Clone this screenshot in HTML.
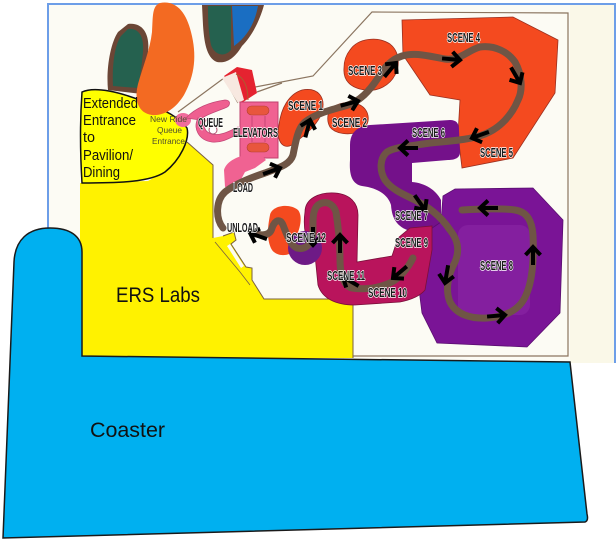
<!DOCTYPE html>
<html><head><meta charset="utf-8"><style>
html,body{margin:0;padding:0;background:#fff;}
svg{display:block}
.lb{font-family:"Liberation Sans",sans-serif;font-weight:bold;font-size:13px;fill:#1a1a1a;stroke:#fff;stroke-width:1.6px;paint-order:stroke;stroke-linejoin:round}
.cal{font-family:"Liberation Sans",sans-serif;fill:#111}
</style></head><body>
<svg width="616" height="540" viewBox="0 0 616 540" xmlns="http://www.w3.org/2000/svg">
<defs>
<g id="ar"><path d="M-18,0 L-1,0 M-8,-7.5 L0,0 L-8,7.5" fill="none" stroke="#000" stroke-width="4"/></g>
</defs>
<rect width="616" height="540" fill="#fff"/>
<!-- photo -->
<rect x="48" y="4" width="568" height="359" fill="#fcfbf4"/>
<rect x="570" y="4" width="46" height="359" fill="#faf8e8"/>
<path d="M48,240 L48,4 L615,4 L615,363" fill="none" stroke="#6d9ee8" stroke-width="2"/>

<!-- trees -->
<path d="M128,24 C144,22 150,36 148,52 C147,66 144,80 142,94 L108,90 C106,70 110,44 118,32 Z" fill="#6b4636"/>
<path d="M128,29 C140,28 144,38 143,52 C142,64 140,78 138,88 L113,86 C112,68 114,46 121,36 Z" fill="#25614f"/>
<path d="M202,5 L264,5 C260,20 252,36 242,46 C236,56 228,64 217,62 C206,58 204,40 203,25 Z" fill="#6b4636"/>
<path d="M208,6 L231,6 L231,50 C225,57 215,56 211,45 C208,30 208,15 208,6 Z" fill="#25614f"/>
<path d="M232,6 L258,6 C255,22 248,36 234,46 Z" fill="#1a6ec2"/>

<!-- building outline -->
<path d="M178,112 L224,78 L238,103 M257,92 L282,83 M250,88 L313,76 L372,12 L568,13 L568,356 L353,356" fill="none" stroke="#8b7560" stroke-width="1.2"/>
<!-- red piece -->
<path d="M224,76 L237,67 L252,70 L257,93 L240,104 C236,95 232,85 224,76 Z" fill="#e52330"/>
<path d="M222,78 L236,72 L244,100 L238,103 Z" fill="#f7e8e0"/>
<path d="M236,74 C244,78 248,86 248,100" fill="none" stroke="#b05a30" stroke-width="1"/>

<!-- yellow ERS labs -->
<path d="M80,183 L148,181 C165,172 180,158 187,142 L213,165 L213,238 L223,236 L234,232 L236,240 L231,244 L246,267 L252,268 L252,280 L264,299 L353,299 L353,358 L80,358 Z" fill="#fff200"/>
<path d="M187,142 L213,165 L213,238 M223,236 L234,232 L236,240 L231,244 L246,267 L252,268 L252,280 L264,299 L353,299 L353,358" fill="none" stroke="#7a6040" stroke-width="1"/>
<path d="M215,242 L240,272 L250,285" fill="none" stroke="#7a6040" stroke-width="0.8"/>
<path d="M227,246 L230,244 L244,266 L241,268 Z" fill="#fcfbf4"/>

<!-- extended entrance bubble -->
<path d="M82,92 C95,86 120,92 145,102 C165,110 180,118 187,128 C190,140 180,160 165,172 C150,182 120,183 82,183 C80,150 80,120 82,92 Z" fill="#ffff00" stroke="#111" stroke-width="1.5"/>

<!-- pink queue -->
<ellipse cx="183" cy="120" rx="8" ry="7" fill="#f06b9b"/>
<path d="M186,118 C195,108 210,102 225,100 C231,100 231,106 225,108 C215,112 205,115 200,120 Z" fill="#ef5f90" stroke="#c34877" stroke-width="0.8"/>
<path d="M198,118 C193,128 198,140 212,142 C222,143 230,138 238,134 L238,127 C228,132 220,136 212,134 C204,132 203,126 206,120 Z" fill="#ef5f90" stroke="#c34877" stroke-width="0.8"/>
<circle cx="213" cy="130" r="4" fill="#fff" stroke="#b05070" stroke-width="1"/>
<!-- elevators -->
<rect x="240" y="102" width="38" height="56" fill="#f06292" stroke="#c0406e" stroke-width="1"/>
<rect x="247" y="106" width="22" height="9" rx="4.5" fill="#e8563d" stroke="#b04030" stroke-width="0.6"/>
<rect x="247" y="143" width="22" height="9" rx="4.5" fill="#e8563d" stroke="#b04030" stroke-width="0.6"/>
<path d="M252,116 L252,142 M265,116 L265,142" stroke="#c0406e" stroke-width="0.8"/>
<path d="M242,156 L262,156 L266,160 L255,168 L245,172 L238,185 L225,187 L224,170 C226,163 234,158 242,156 Z" fill="#f06292"/>

<!-- orange blob -->
<path d="M160,3 C176,0 186,12 191,32 C197,55 195,75 184,95 C176,108 165,116 152,115 C138,113 134,100 138,84 C143,66 150,50 152,32 C153,16 152,6 160,3 Z" fill="#f36a22"/>

<!-- orange scenes -->
<g fill="#f44a1f" stroke="#9a3020" stroke-width="0.8">
<path d="M302,90 C318,87 326,97 322,112 C318,125 305,135 292,145 C282,150 276,140 279,125 C281,108 289,94 302,90 Z"/>
<path d="M330,110 C335,103 350,100 360,105 C370,110 372,125 360,131 C350,136 335,134 330,127 C327,122 327,115 330,110 Z"/>
<path d="M350,50 C358,38 378,36 390,44 C400,52 400,66 395,75 C390,85 378,92 365,90 C350,88 343,80 344,68 C344,60 346,55 350,50 Z"/>
<path d="M402,20 L513,17 L558,40 L555,93 L513,158 L462,168 L458,135 L460,100 L430,95 L403,55 Z"/>
</g>

<!-- purple scenes 6/7 -->
<path d="M350,145 C350,132 358,126 370,125 L450,120 C457,120 459,124 459,130 L460,152 C460,158 455,160 448,160 L412,163 L412,182 C425,183 436,190 441,200 L441,230 L413,232 C398,228 392,220 391,205 C388,195 378,188 362,186 C352,184 349,175 350,160 Z" fill="#74118a"/>
<!-- scene 8 octagon -->
<path d="M443,196 L455,189 L533,188 L563,220 L560,313 L527,347 L437,343 L422,313 L416,265 L422,235 L441,222 Z" fill="#7a1496" stroke="#5a0e70" stroke-width="0.8"/>
<rect x="458" y="225" width="72" height="90" rx="10" fill="#8e2aa8" opacity="0.5"/>
<!-- magenta scenes 9-11 -->
<path d="M305,212 C305,198 320,192 335,193 C350,194 358,203 358,215 L357,262 L392,256 L398,238 L410,228 L432,226 L432,250 L425,290 C420,296 410,300 400,302 L355,305 C335,305 322,298 318,285 L315,255 C305,245 303,225 305,212 Z" fill="#b9145c" stroke="#7a0f3a" stroke-width="0.8"/>
<!-- scene 12 -->
<path d="M270,215 C272,205 290,203 298,210 C303,216 300,228 297,235 L297,248 C292,256 278,258 272,250 C266,240 268,225 270,215 Z" fill="#f44a1f"/>
<circle cx="305" cy="248" r="17" fill="#6e1a86"/>

<!-- track -->
<g fill="none" stroke="#6f5545" stroke-width="7" stroke-linecap="round" stroke-linejoin="round">
<path d="M223,228 C215,218 216,200 225,192 C235,184 250,178 265,173 C278,168 290,165 293,155 C296,140 298,128 305,122 C315,114 330,110 345,106 C360,102 370,90 378,78 C384,68 390,60 402,56 C415,52 428,56 445,59 C460,61 468,50 480,47 C495,45 508,52 515,62 C522,74 523,90 518,100 C512,115 500,128 485,134 C470,140 450,141 430,143 C410,146 395,147 387,152 C380,158 379,170 385,180 C392,190 405,195 415,200 C428,207 440,215 450,230 C458,240 460,250 455,262 C448,275 445,290 450,302 C456,314 470,319 487,318 C505,317 520,310 526,295 C533,280 534,255 533,235 C532,222 528,212 515,210 C500,208 480,209 462,210"/>
<path d="M413,258 C408,268 400,278 390,283 C378,288 365,290 352,288 C344,286 340,275 340,260 C340,245 338,225 336,212 C333,203 325,200 318,205 C312,210 313,222 313,232 C312,245 305,250 297,248 C290,245 287,235 283,225 C280,218 275,220 272,228 C270,236 262,236 252,233"/>
</g>

<!-- arrows -->
<use href="#ar" transform="translate(280,168) rotate(-20)"/>
<use href="#ar" transform="translate(310,120) rotate(-75)"/>
<use href="#ar" transform="translate(358,101) rotate(-15)"/>
<use href="#ar" transform="translate(396,63) rotate(-50)"/>
<use href="#ar" transform="translate(460,60) rotate(5)"/>
<use href="#ar" transform="translate(520,83) rotate(60)"/>
<use href="#ar" transform="translate(472,138) rotate(160)"/>
<use href="#ar" transform="translate(400,148) rotate(180)"/>
<use href="#ar" transform="translate(425,210) rotate(55)"/>
<use href="#ar" transform="translate(445,283) rotate(100)"/>
<use href="#ar" transform="translate(505,315) rotate(-5)"/>
<use href="#ar" transform="translate(533,247) rotate(-90)"/>
<use href="#ar" transform="translate(480,208) rotate(180)"/>
<use href="#ar" transform="translate(393,278) rotate(140)"/>
<use href="#ar" transform="translate(343,277) rotate(-150)"/>
<use href="#ar" transform="translate(340,235) rotate(-90)"/>
<use href="#ar" transform="translate(313,245) rotate(90)"/>
<use href="#ar" transform="translate(250,233) rotate(200)"/>

<!-- labels -->
<g class="lb">
<text x="198" y="127" textLength="25" lengthAdjust="spacingAndGlyphs">QUEUE</text>
<text x="233" y="137" textLength="45" lengthAdjust="spacingAndGlyphs">ELEVATORS</text>
<text x="233" y="192" textLength="20" lengthAdjust="spacingAndGlyphs">LOAD</text>
<text x="227" y="232" textLength="31" lengthAdjust="spacingAndGlyphs">UNLOAD</text>
<text x="288" y="110" textLength="35" lengthAdjust="spacingAndGlyphs">SCENE 1</text>
<text x="332" y="127" textLength="35" lengthAdjust="spacingAndGlyphs">SCENE 2</text>
<text x="348" y="75" textLength="34" lengthAdjust="spacingAndGlyphs">SCENE 3</text>
<text x="447" y="42" textLength="33" lengthAdjust="spacingAndGlyphs">SCENE 4</text>
<text x="480" y="157" textLength="33" lengthAdjust="spacingAndGlyphs">SCENE 5</text>
<text x="412" y="137" textLength="33" lengthAdjust="spacingAndGlyphs">SCENE 6</text>
<text x="395" y="220" textLength="33" lengthAdjust="spacingAndGlyphs">SCENE 7</text>
<text x="395" y="247" textLength="33" lengthAdjust="spacingAndGlyphs">SCENE 9</text>
<text x="480" y="270" textLength="33" lengthAdjust="spacingAndGlyphs">SCENE 8</text>
<text x="368" y="297" textLength="39" lengthAdjust="spacingAndGlyphs">SCENE 10</text>
<text x="327" y="280" textLength="38" lengthAdjust="spacingAndGlyphs">SCENE 11</text>
<text x="286" y="242" textLength="40" lengthAdjust="spacingAndGlyphs">SCENE 12</text>
</g>

<!-- new ride queue entrance -->
<g font-family="Liberation Sans, sans-serif" font-size="8.5" fill="#4e4e2e">
<text x="150" y="122" textLength="37" lengthAdjust="spacingAndGlyphs">New Ride</text>
<text x="157" y="133" textLength="25" lengthAdjust="spacingAndGlyphs">Queue</text>
<text x="152" y="144" textLength="33" lengthAdjust="spacingAndGlyphs">Entrance</text>
</g>

<!-- extended entrance text -->
<g class="cal" font-size="15">
<text x="83" y="108" textLength="55" lengthAdjust="spacingAndGlyphs">Extended</text>
<text x="83" y="125" textLength="53" lengthAdjust="spacingAndGlyphs">Entrance</text>
<text x="83" y="142" textLength="12" lengthAdjust="spacingAndGlyphs">to</text>
<text x="83" y="160" textLength="50" lengthAdjust="spacingAndGlyphs">Pavilion/</text>
<text x="83" y="177" textLength="37" lengthAdjust="spacingAndGlyphs">Dining</text>
</g>
<text class="cal" x="116" y="302" font-size="21" textLength="84" lengthAdjust="spacingAndGlyphs">ERS Labs</text>

<!-- coaster -->
<path d="M82,356 L82,252 C82,236 70,228 50,228 C28,228 15,240 14,262 L3,538 L585,522 C588,521 588,518 587,514 L570,362 Z" fill="#00b0f0" stroke="#1a1a1a" stroke-width="1.5"/>
<text class="cal" x="90" y="437" font-size="21" textLength="75" lengthAdjust="spacingAndGlyphs">Coaster</text>
</svg>
</body></html>
